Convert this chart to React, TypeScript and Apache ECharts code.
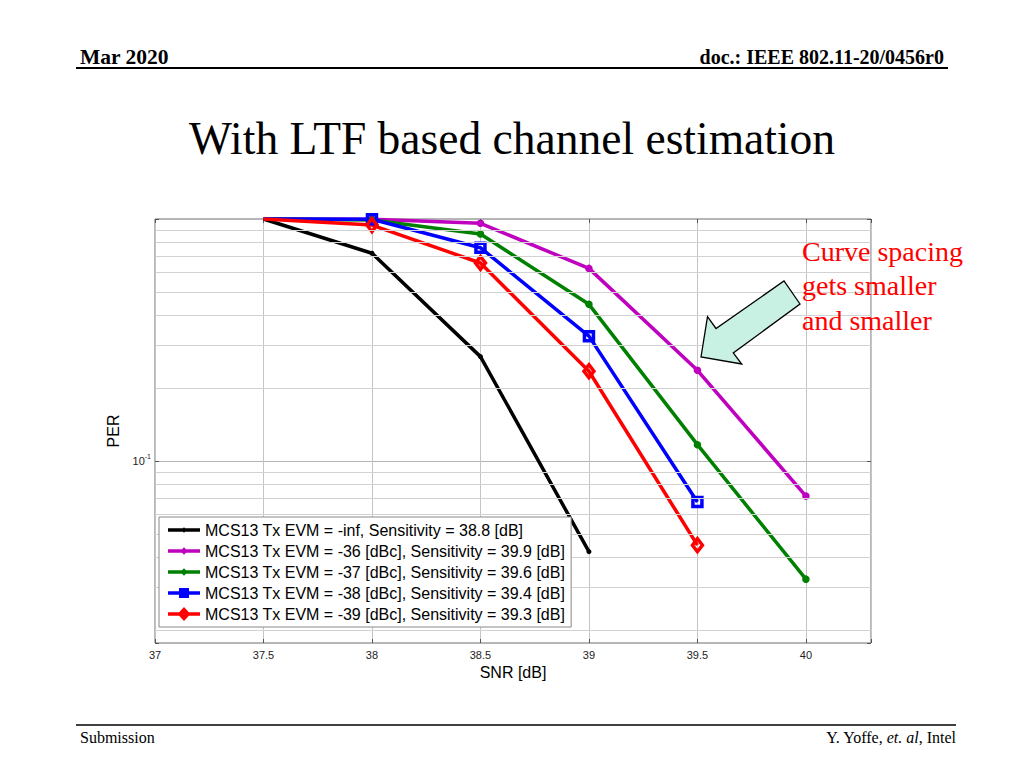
import React, { useEffect, useRef } from 'react';
import * as echarts from 'echarts';

// ---- data ----
const snr = [37.5, 38, 38.5, 39, 39.5, 40];
const perInf = [1, 0.722, 0.27, 0.0422];
const per36 = [1, 0.997, 0.96, 0.625, 0.237, 0.0716];
const per37 = [1, 0.99, 0.867, 0.444, 0.1168, 0.0325];
const per38 = [1, 0.997, 0.761, 0.328, 0.0677];
const per39 = [1, 0.944, 0.658, 0.235, 0.0449];
const seriesNames = [
  'MCS13 Tx EVM = -inf, Sensitivity = 38.8 [dB]',
  'MCS13 Tx EVM = -36 [dBc], Sensitivity = 39.9 [dB]',
  'MCS13 Tx EVM = -37 [dBc], Sensitivity = 39.6 [dB]',
  'MCS13 Tx EVM = -38 [dBc], Sensitivity = 39.4 [dB]',
  'MCS13 Tx EVM = -39 [dBc], Sensitivity = 39.3 [dB]',
];
const xTicks = [37, 37.5, 38, 38.5, 39, 39.5, 40];
const minorY = [0.02, 0.03, 0.04, 0.05, 0.06, 0.07, 0.08, 0.09, 0.2, 0.3, 0.4, 0.5, 0.6, 0.7, 0.8, 0.9];

const SERIF = '"Liberation Serif", "Times New Roman", serif';
const SANS = '"Liberation Sans", Arial, Helvetica, sans-serif';
const colors = ['#000000', '#bf00bf', '#008000', '#0000ff', '#ff0000'];

const corners = 'M0,0L0.01,0L0,0.01Z M32,14L31.99,14L32,13.99Z ';
const lineBar = 'M0,5.3L32,5.3L32,8.7L0,8.7Z ';
const legendIcons = [
  'path://' + corners + lineBar + 'M16,4.3L18.7,7L16,9.7L13.3,7Z',
  'path://' + corners + lineBar + 'M16,3.3L19.7,7L16,10.7L12.3,7Z',
  'path://' + corners + lineBar + 'M16,3.3L19.7,7L16,10.7L12.3,7Z',
  'path://' + corners + lineBar + 'M11,2L21,2L21,12L11,12Z',
  'path://' + corners + lineBar + 'M16,0L22.5,7L16,14L9.5,7Z',
];

const mk = (ys: number[]) =>
  ys.map((y, i) => (y >= 1 ? { value: [snr[i], y], symbol: 'none' } : [snr[i], y]));

export default function App() {
  const ref = useRef<HTMLDivElement>(null);
  useEffect(() => {
    if (!ref.current) return;
    const chart = echarts.init(ref.current, null, { renderer: 'svg' });
    const tickStyle = { color: '#555', width: 1 };
    const LW = 3.5;
    const option: any = {
      animation: false,
      backgroundColor: '#ffffff',
      grid: {
        left: 155, top: 219, width: 716, height: 424,
        show: true, borderColor: '#6e6e6e', borderWidth: 1, backgroundColor: 'transparent',
      },
      xAxis: [
        {
          type: 'value', min: 37, max: 40.3, interval: 0.5, position: 'bottom',
          axisLine: { show: false },
          axisTick: { show: true, inside: true, length: 4, lineStyle: tickStyle },
          axisLabel: {
            fontSize: 11, color: '#222', margin: 6, fontFamily: SANS,
            formatter: (v: number) => (xTicks.some((t) => Math.abs(t - v) < 1e-6) ? String(v) : ''),
          },
          splitLine: { show: true, lineStyle: { color: '#c4c4c4', width: 1 } },
          name: 'SNR [dB]', nameLocation: 'middle', nameGap: 20,
          nameTextStyle: { fontSize: 16, color: '#000', fontFamily: SANS },
        },
        {
          type: 'value', min: 37, max: 40.3, interval: 0.5, position: 'top',
          axisLine: { show: false },
          axisTick: { show: true, inside: true, length: 4, lineStyle: tickStyle },
          axisLabel: { show: false }, splitLine: { show: false },
        },
      ],
      yAxis: [
        {
          type: 'log', logBase: 10, min: 0.0177, max: 1, position: 'left',
          axisLine: { show: false },
          axisTick: { show: true, inside: true, length: 4, lineStyle: tickStyle },
          axisLabel: {
            margin: 4, fontFamily: SANS, color: '#222',
            formatter: (v: number) => (Math.abs(v - 0.1) < 1e-6 ? '{b|10}{s|-1}' : ''),
            rich: {
              b: { fontSize: 11, lineHeight: 16, fontFamily: SANS, color: '#222' },
              s: { fontSize: 7, lineHeight: 8, verticalAlign: 'top', fontFamily: SANS, color: '#222' },
            },
          },
          splitLine: { show: true, lineStyle: { color: '#b4b4b4', width: 1 } },
          name: 'PER', nameLocation: 'middle', nameGap: 30,
          nameTextStyle: { fontSize: 16, color: '#000', fontFamily: SANS },
        },
        {
          type: 'log', logBase: 10, min: 0.0177, max: 1, position: 'right',
          axisLine: { show: false },
          axisTick: { show: true, inside: true, length: 4, lineStyle: tickStyle },
          axisLabel: { show: false }, splitLine: { show: false },
        },
      ],
      legend: {
        orient: 'vertical', left: 159, top: 517, padding: [5, 6, 5, 9],
        itemWidth: 32, itemHeight: 14, itemGap: 5,
        backgroundColor: '#ffffff', borderColor: '#888', borderWidth: 1,
        selectedMode: false,
        textStyle: { fontSize: 16, color: '#000', fontFamily: SANS },
        data: seriesNames.map((n, i) => ({
          name: n, icon: legendIcons[i], itemStyle: { color: colors[i], borderWidth: 0 },
        })),
        z: 10,
      },
      series: [
        {
          type: 'line', name: '__grid', data: [], z: 1, silent: true,
          markLine: {
            silent: true, symbol: ['none', 'none'], label: { show: false },
            lineStyle: { color: '#d2d2d2', type: 'solid', width: 1 },
            emphasis: { disabled: true },
            data: minorY.map((v) => ({ yAxis: v })),
          },
        },
        {
          type: 'line', name: seriesNames[0], data: mk(perInf), z: 3, clip: false,
          symbol: 'circle', symbolSize: 5,
          lineStyle: { color: colors[0], width: LW }, itemStyle: { color: colors[0] },
        },
        {
          type: 'line', name: seriesNames[1], data: mk(per36), z: 3, clip: false,
          symbol: 'circle', symbolSize: 7.5,
          lineStyle: { color: colors[1], width: LW }, itemStyle: { color: colors[1] },
        },
        {
          type: 'line', name: seriesNames[2], data: mk(per37), z: 3, clip: false,
          symbol: 'circle', symbolSize: 7.5,
          lineStyle: { color: colors[2], width: LW }, itemStyle: { color: colors[2] },
        },
        {
          type: 'line', name: seriesNames[3], data: mk(per38), z: 3, clip: false,
          symbol: 'rect', symbolSize: 9,
          lineStyle: { color: colors[3], width: LW },
          itemStyle: { color: 'rgba(0,0,0,0)', borderColor: colors[3], borderWidth: 3.5 },
        },
        {
          type: 'line', name: seriesNames[4], data: mk(per39), z: 3, clip: false,
          symbol: 'diamond', symbolSize: [10, 13],
          lineStyle: { color: colors[4], width: LW },
          itemStyle: { color: 'rgba(0,0,0,0)', borderColor: colors[4], borderWidth: 3.5 },
        },
      ],
      graphic: [
        {
          type: 'text', x: 80, y: 57, z: 100,
          style: { text: 'Mar 2020', fontSize: 21.5, fontWeight: 'bold', fontFamily: SERIF, fill: '#000',
            align: 'left', textAlign: 'left', verticalAlign: 'middle', textVerticalAlign: 'middle' },
        },
        {
          type: 'text', x: 944, y: 57, z: 100,
          style: { text: 'doc.: IEEE 802.11-20/0456r0', fontSize: 20, fontWeight: 'bold', fontFamily: SERIF, fill: '#000',
            align: 'right', textAlign: 'right', verticalAlign: 'middle', textVerticalAlign: 'middle' },
        },
        { type: 'line', z: 100, shape: { x1: 76, y1: 68, x2: 948, y2: 68 }, style: { stroke: '#000', lineWidth: 2 } },
        {
          type: 'text', x: 512, y: 138, z: 100,
          style: { text: 'With LTF based channel estimation', fontSize: 45.5, fontFamily: SERIF, fill: '#000',
            align: 'center', textAlign: 'center', verticalAlign: 'middle', textVerticalAlign: 'middle' },
        },
        { type: 'line', z: 100, shape: { x1: 76, y1: 725, x2: 956, y2: 725 }, style: { stroke: '#000', lineWidth: 1.5 } },
        {
          type: 'text', x: 80, y: 737, z: 100,
          style: { text: 'Submission', fontSize: 16, fontFamily: SERIF, fill: '#000',
            align: 'left', textAlign: 'left', verticalAlign: 'middle', textVerticalAlign: 'middle' },
        },
        {
          type: 'text', x: 956, y: 737, z: 100,
          style: {
            text: '{n|Y. Yoffe, }{i|et. al}{n|, Intel}',
            align: 'right', textAlign: 'right', verticalAlign: 'middle', textVerticalAlign: 'middle',
            rich: {
              n: { fontSize: 16, fontFamily: SERIF, fill: '#000' },
              i: { fontSize: 16, fontFamily: SERIF, fill: '#000', fontStyle: 'italic' },
            },
          },
        },
        {
          type: 'polygon', z: 100,
          shape: { points: [[701, 357], [707.5, 316.7], [716, 328.5], [784, 281], [800, 304], [733.3, 353], [741.7, 364]] },
          style: { fill: '#c9f1e3', stroke: '#000', lineWidth: 1.3 },
        },
        {
          type: 'text', x: 802, y: 234, z: 100,
          style: { text: 'Curve spacing\ngets smaller\nand smaller', fontSize: 28, lineHeight: 34.5, fontFamily: SERIF, fill: '#ff0000',
            align: 'left', textAlign: 'left', verticalAlign: 'top', textVerticalAlign: 'top' },
        },
      ],
    };
    chart.setOption(option);
    return () => chart.dispose();
  }, []);
  return (
    <div
      ref={ref}
      style={{ position: 'fixed', left: 0, top: 0, width: 1024, height: 768, background: '#fff' }}
    />
  );
}
